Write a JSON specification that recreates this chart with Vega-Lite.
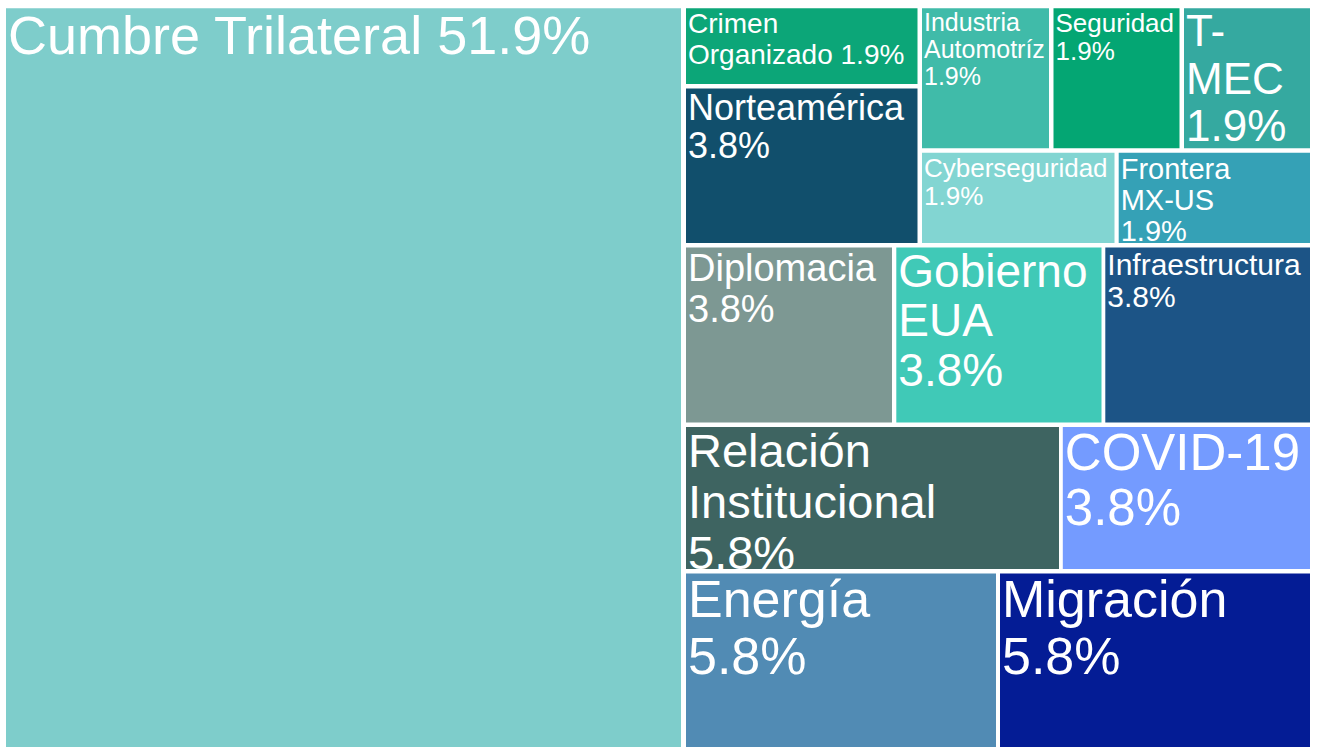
{
  "$schema": "https://vega.github.io/schema/vega-lite/v6.json",
  "width": 1317,
  "height": 747,
  "padding": 0,
  "autosize": {"type": "none"},
  "background": "white",
  "config": {"view": {"stroke": null}},
  "data": {
    "values": [
      {"name": "Cumbre Trilateral", "pct": 51.9, "label": ["Cumbre Trilateral 51.9%"], "x1": 6, "x2": 681, "y1": 8.3, "y2": 747},
      {"name": "Crimen Organizado", "pct": 1.9, "label": ["Crimen", "Organizado 1.9%"], "x1": 686, "x2": 917.5, "y1": 8.3, "y2": 84},
      {"name": "Norteamérica", "pct": 3.8, "label": ["Norteamérica", "3.8%"], "x1": 686, "x2": 917.5, "y1": 88.5, "y2": 243},
      {"name": "Industria Automotríz", "pct": 1.9, "label": ["Industria", "Automotríz", "1.9%"], "x1": 922, "x2": 1049, "y1": 8.3, "y2": 148.3},
      {"name": "Seguridad", "pct": 1.9, "label": ["Seguridad", "1.9%"], "x1": 1053.5, "x2": 1179.5, "y1": 8.3, "y2": 148.3},
      {"name": "T-MEC", "pct": 1.9, "label": ["T-", "MEC", "1.9%"], "x1": 1184, "x2": 1310, "y1": 8.3, "y2": 148.3},
      {"name": "Cyberseguridad", "pct": 1.9, "label": ["Cyberseguridad", "1.9%"], "x1": 922, "x2": 1114.5, "y1": 152.7, "y2": 243},
      {"name": "Frontera MX-US", "pct": 1.9, "label": ["Frontera", "MX-US", "1.9%"], "x1": 1118.7, "x2": 1310, "y1": 152.7, "y2": 243},
      {"name": "Diplomacia", "pct": 3.8, "label": ["Diplomacia", "3.8%"], "x1": 686, "x2": 892, "y1": 247.5, "y2": 422.5},
      {"name": "Gobierno EUA", "pct": 3.8, "label": ["Gobierno", "EUA", "3.8%"], "x1": 896.3, "x2": 1101.5, "y1": 247.5, "y2": 422.5},
      {"name": "Infraestructura", "pct": 3.8, "label": ["Infraestructura", "3.8%"], "x1": 1105.3, "x2": 1310, "y1": 247.5, "y2": 422.5},
      {"name": "Relación Institucional", "pct": 5.8, "label": ["Relación", "Institucional", "5.8%"], "x1": 686, "x2": 1059, "y1": 427, "y2": 569},
      {"name": "COVID-19", "pct": 3.8, "label": ["COVID-19", "3.8%"], "x1": 1062.8, "x2": 1310, "y1": 427, "y2": 569},
      {"name": "Energía", "pct": 5.8, "label": ["Energía", "5.8%"], "x1": 686, "x2": 996, "y1": 573.4, "y2": 747},
      {"name": "Migración", "pct": 5.8, "label": ["Migración", "5.8%"], "x1": 1000, "x2": 1310, "y1": 573.4, "y2": 747}
    ]
  },
  "encoding": {
    "x": {"field": "x1", "type": "quantitative", "axis": null, "scale": {"domain": [0, 1317], "nice": false, "zero": false}},
    "y": {"field": "y1", "type": "quantitative", "axis": null, "scale": {"domain": [0, 747], "nice": false, "zero": false, "reverse": true}}
  },
  "layer": [
    {
      "mark": {"type": "rect", "strokeWidth": 0},
      "encoding": {
        "x2": {"field": "x2"},
        "y2": {"field": "y2"},
        "color": {
          "field": "name",
          "type": "nominal",
          "legend": null,
          "scale": {
            "domain": ["Cumbre Trilateral", "Crimen Organizado", "Norteamérica", "Industria Automotríz", "Seguridad", "T-MEC", "Cyberseguridad", "Frontera MX-US", "Diplomacia", "Gobierno EUA", "Infraestructura", "Relación Institucional", "COVID-19", "Energía", "Migración"],
            "range": ["#7ECDCB", "#0CA678", "#114F6C", "#40BBA9", "#04A673", "#35A9A0", "#82D5D2", "#35A1B6", "#7D9893", "#40C9B7", "#1C5486", "#3E6461", "#749BFF", "#518BB4", "#041C95"]
          }
        }
      }
    },
    {
      "mark": {
        "type": "text",
        "align": "left",
        "baseline": "top",
        "dx": 2,
        "dy": 3,
        "font": "Liberation Sans",
        "fill": "white",
        "lineHeight": {"expr": "scale('size', datum.name) * 1.08"}
      },
      "encoding": {
        "text": {"field": "label"},
        "size": {
          "field": "name",
          "type": "nominal",
          "legend": null,
          "scale": {
            "type": "ordinal",
            "domain": ["Cumbre Trilateral", "Crimen Organizado", "Norteamérica", "Industria Automotríz", "Seguridad", "T-MEC", "Cyberseguridad", "Frontera MX-US", "Diplomacia", "Gobierno EUA", "Infraestructura", "Relación Institucional", "COVID-19", "Energía", "Migración"],
            "range": [54, 28, 36, 25, 26, 44, 26, 29, 38, 46, 30, 47, 51, 52, 52]
          }
        }
      }
    }
  ]
}
